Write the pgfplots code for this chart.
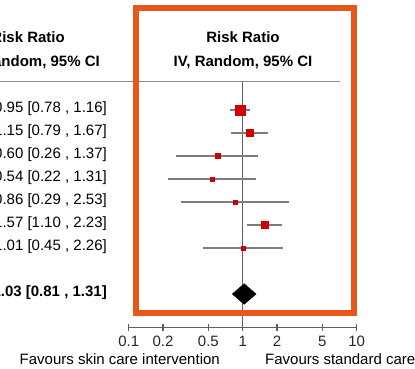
\documentclass[border=0pt]{standalone}
\usepackage{fontspec}
\setmainfont{Liberation Sans}
\usepackage{pgfplots}
\usepackage{pgfplotstable}
\pgfplotsset{compat=1.18}
\definecolor{boxorange}{RGB}{232,87,26}
\definecolor{sqred}{RGB}{206,0,0}
\definecolor{cigray}{RGB}{125,125,125}
\definecolor{refgray}{RGB}{95,95,95}
\definecolor{hdrgray}{RGB}{140,140,140}

\pgfplotstableread{
x y s
0.95 258 4.8
1.15 235 3.4
0.60 212 2.4
0.54 189 2.2
0.86 166 2.1
1.57 143 3.4
1.01 120 2.2
}\points

\pgfplotstableread{
x y
0.78 258
1.16 258
nan nan
0.79 235
1.67 235
nan nan
0.26 212
1.37 212
nan nan
0.22 189
1.31 189
nan nan
0.29 166
2.53 166
nan nan
1.10 143
2.23 143
nan nan
0.45 120
2.26 120
}\cis

\begin{document}
\fontsize{15}{18}\selectfont
\begin{tikzpicture}
\path[use as bounding box] (0pt,0pt) rectangle (415pt,368pt);
% header separator line
\draw[color=hdrgray, line width=1.8pt] (-5pt,286.5pt) -- (340pt,286.5pt);
% left column headers
\node[anchor=base east, font=\bfseries, inner sep=0] at (65pt,325.5pt) {Risk Ratio};
\node[anchor=base east, font=\bfseries, inner sep=0] at (100pt,301.5pt) {IV, Random, 95\% CI};
% right column headers
\node[anchor=base, font=\bfseries, inner sep=0] at (243pt,325.5pt) {Risk Ratio};
\node[anchor=base, font=\bfseries, inner sep=0] at (243pt,301.5pt) {IV, Random, 95\% CI};
% CI text
\node[anchor=base east, inner sep=0] at (107pt,256pt) {0.95 [0.78 , 1.16]};
\node[anchor=base east, inner sep=0] at (107pt,233pt) {1.15 [0.79 , 1.67]};
\node[anchor=base east, inner sep=0] at (107pt,210pt) {0.60 [0.26 , 1.37]};
\node[anchor=base east, inner sep=0] at (107pt,187pt) {0.54 [0.22 , 1.31]};
\node[anchor=base east, inner sep=0] at (107pt,164pt) {0.86 [0.29 , 2.53]};
\node[anchor=base east, inner sep=0] at (107pt,141pt) {1.57 [1.10 , 2.23]};
\node[anchor=base east, inner sep=0] at (107pt,118pt) {1.01 [0.45 , 2.26]};
\node[anchor=base east, inner sep=0, font=\bfseries] at (107pt,71.3pt) {1.03 [0.81 , 1.31]};
% bottom labels
\node[anchor=base east, inner sep=0] at (220pt,3.8pt) {Favours skin care intervention};
\node[anchor=base west, inner sep=0] at (265pt,3.8pt) {Favours standard care};

\begin{axis}[
  at={(128.7pt,40.5pt)}, anchor=south west,
  width=228pt, height=246pt, scale only axis,
  xmode=log, xmin=0.1, xmax=10,
  ymin=40.5, ymax=286.5,
  axis x line=bottom, axis y line=none,
  axis line style={draw=refgray, line width=1.2pt, -},
  xtick={0.1,0.2,0.5,1,2,5,10},
  xticklabels={0.1,0.2,0.5,1,2,5,10},
  xminorticks=false,
  tick align=center, major tick length=7pt,
  tick style={draw=refgray, line width=1.1pt},
  /pgf/number format/assume math mode=true,
  every tick label/.append style={font=\fontsize{15}{18}\selectfont, text=black!85},
  clip=false,
]
% reference line at 1
\addplot[refgray, line width=1.2pt] coordinates {(1,40.5) (1,286.5)};
% confidence intervals
\addplot[cigray, line width=1.4pt, unbounded coords=jump] table[x=x,y=y] {\cis};
% point estimates
\addplot[scatter, only marks, mark=square*,
  scatter/use mapped color={draw=sqred, fill=sqred},
  visualization depends on={\thisrow{s} \as \ms},
  scatter/@pre marker code/.append style={/tikz/mark size=\ms}]
  table[x=x,y=y] {\points};
% pooled estimate diamond
\addplot[fill=black, draw=black] coordinates {(0.81,74) (1.03,84.3) (1.31,74) (1.03,63.7) (0.81,74)};
\end{axis}
% highlight box
\draw[boxorange, line width=6pt] (135.8pt,54.7pt) rectangle (353.7pt,360.3pt);
\end{tikzpicture}
\end{document}
